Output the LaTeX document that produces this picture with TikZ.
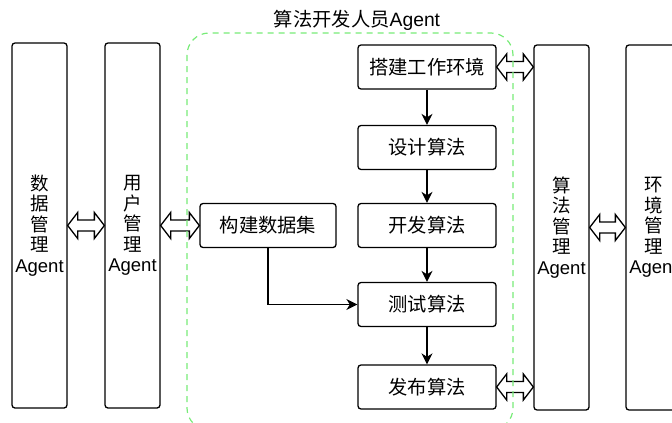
\documentclass[tikz,border=0pt]{standalone}
\usepackage{fontspec}
\setmainfont{Liberation Sans}
\newfontfamily\cjk{Noto Sans CJK SC}
\usetikzlibrary{arrows.meta,calc}
\definecolor{grn}{RGB}{120,235,120}
\tikzset{
  box/.style={draw=black, line width=1.3pt, rounded corners=3pt, fill=white, align=center,
     font=\fontsize{18.5}{20.5}\selectfont, inner sep=0pt},
  tall/.style={box, minimum width=55, minimum height=365},
  small/.style={box, minimum width=138, minimum height=44, font=\fontsize{19.3}{21}\selectfont},
  flow/.style={line width=1.3pt, -{Stealth[length=11pt,width=11pt,inset=3.5pt]}},
  fat/.style={line width=1.3pt, fill=white, line join=miter},
}
\newcommand\fatarrow[2]{%
  \filldraw[fat] (#1) -- ($(#1)+(10,-13)$) -- ($(#1)+(10,-5.5)$) -- ($(#2)+(-10,-5.5)$)
   -- ($(#2)+(-10,-13)$) -- (#2) -- ($(#2)+(-10,13)$) -- ($(#2)+(-10,5.5)$)
   -- ($(#1)+(10,5.5)$) -- ($(#1)+(10,13)$) -- cycle;}
\begin{document}
\begin{tikzpicture}[x=1pt,y=-1pt]
\useasboundingbox (0,0) rectangle (672,423);
\clip (0,0) rectangle (672,423);
\node[tall] (d) at (39.5,225.5) {{\cjk 数}\\{\cjk 据}\\{\cjk 管}\\{\cjk 理}\\Agent};
\node[tall] (u) at (132.5,225.5) {{\cjk 用}\\{\cjk 户}\\{\cjk 管}\\{\cjk 理}\\Agent};
\node[tall] (alg) at (561.5,227.5) {{\cjk 算}\\{\cjk 法}\\{\cjk 管}\\{\cjk 理}\\Agent};
\node[tall] (env) at (653.5,227.5) {{\cjk 环}\\{\cjk 境}\\{\cjk 管}\\{\cjk 理}\\Agent};
\node[small] (s1) at (427,67) {\cjk 搭建工作环境};
\node[small] (s2) at (427,147.5) {\cjk 设计算法};
\node[small] (s3) at (427,225.5) {\cjk 开发算法};
\node[small] (s4) at (427,304.5) {\cjk 测试算法};
\node[small] (s5) at (427,387) {\cjk 发布算法};
\node[small, minimum width=136] (b) at (268,225.5) {\cjk 构建数据集};
\node[font=\fontsize{19.3}{21}\selectfont, inner sep=0pt] (title) at (357,20) {{\cjk 算法开发人员}Agent};
\draw[flow] (s1) -- (s2);
\draw[flow] (s2) -- (s3);
\draw[flow] (s3) -- (s4);
\draw[flow] (s4) -- (s5);
\draw[flow] (b.south) |- (s4.west);
\fatarrow{d.east}{u.west}
\fatarrow{u.east}{b.west}
\fatarrow{s1.east}{alg.west |- s1.east}
\fatarrow{s5.east}{alg.west |- s5.east}
\fatarrow{alg.east}{env.west}
\draw[grn, line width=1.2pt, dash pattern=on 6pt off 5pt, rounded corners=22pt] (187,33) rectangle (513,430);
\end{tikzpicture}
\end{document}
